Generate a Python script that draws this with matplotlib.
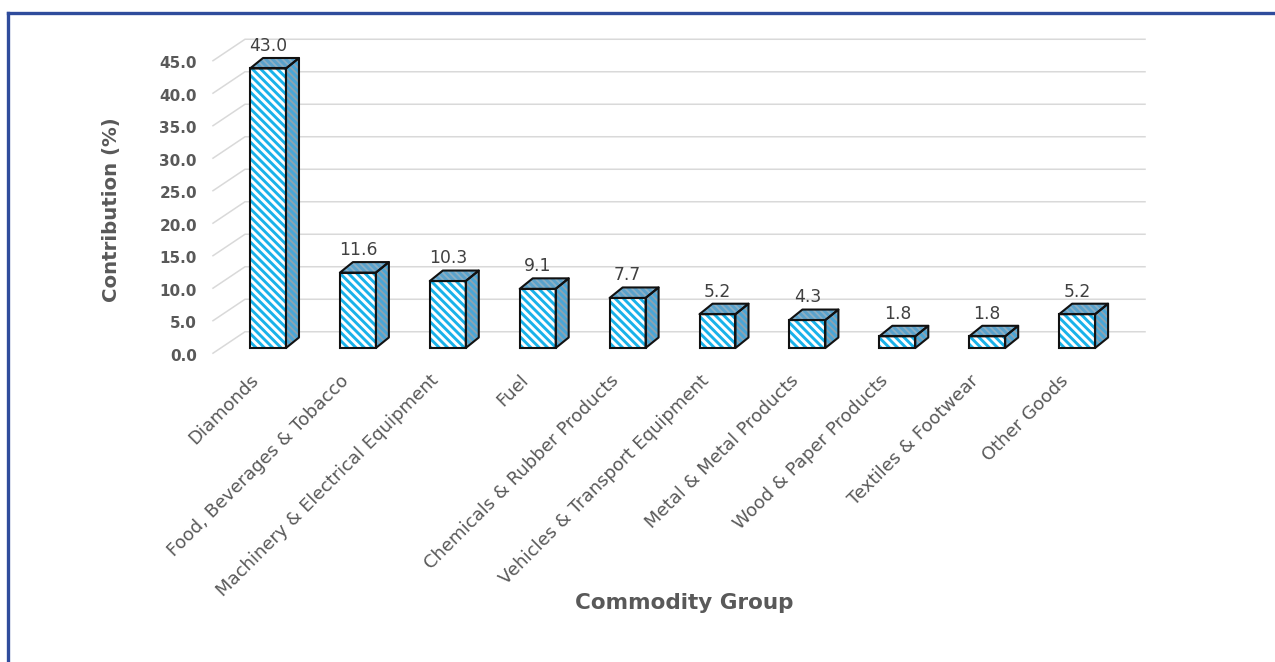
import matplotlib
matplotlib.use('Agg')
import matplotlib.pyplot as plt
from matplotlib.patches import Polygon
from matplotlib.lines import Line2D

categories = ["Diamonds", "Food, Beverages & Tobacco", "Machinery & Electrical Equipment",
              "Fuel", "Chemicals & Rubber Products", "Vehicles & Transport Equipment",
              "Metal & Metal Products", "Wood & Paper Products", "Textiles & Footwear",
              "Other Goods"]
values = [43.0, 11.6, 10.3, 9.1, 7.7, 5.2, 4.3, 1.8, 1.8, 5.2]
yticks = [0.0, 5.0, 10.0, 15.0, 20.0, 25.0, 30.0, 35.0, 40.0, 45.0]

plt.rcParams['hatch.linewidth'] = 2.1

W, H = 1275, 662
fig = plt.figure(figsize=(W / 100, H / 100), dpi=100)

# axes pixel box
x0px, x1px = 200, 1160
ytop, ybot = 20, 360
ax = fig.add_axes([x0px / W, 1 - ybot / H, (x1px - x0px) / W, (ybot - ytop) / H])
pxx, c0 = 89.9, 268.0   # px per category, px of first category
pxy, base = 6.5, 348.0  # px per unit, px of zero
ax.set_xlim((x0px - c0) / pxx, (x1px - c0) / pxx)
ax.set_ylim((base - ybot) / pxy, (base - ytop) / pxy)
ax.axis('off')

def dxu(px):
    return px / pxx

def dyu(px):
    return px / pxy

grey = '#595959'
cyan = '#19b2ea'
front_hatch = '\\' * 4
face_hatch = '\\' * 5

# grid: diagonal floor lines + back-wall horizontal lines
xf, xb, xe = dxu(213 - c0), dxu(245 - c0), dxu(1145 - c0)
for v in yticks:
    yf = v - 0.8
    yb = v + 2.5
    ax.plot([xf, xb, xe], [yf, yb, yb], color='#d9d9d9', lw=1.1, zorder=1,
            solid_joinstyle='miter')
    ax.text(dxu(197 - c0), v - 1.25, f"{v:.1f}", ha='right', va='center',
            fontsize=11, fontweight='bold', color=grey)

bw = 0.4
ddx = dxu(13)
ddy = dyu(10.5)
for i, v in enumerate(values):
    xl, xr = i - bw / 2, i + bw / 2
    # front face
    ax.bar(i, v, width=bw, color='white', edgecolor=cyan, hatch=front_hatch, lw=0, zorder=3)
    ax.bar(i, v, width=bw, fill=False, edgecolor='#111111', lw=1.5, zorder=5)
    # side face
    side = [(xr, 0), (xr + ddx, ddy), (xr + ddx, v + ddy), (xr, v)]
    ax.add_patch(Polygon(side, closed=True, facecolor='#8ea3b0', edgecolor='#4aa6d6',
                         hatch=face_hatch, lw=0, zorder=3))
    ax.add_patch(Polygon(side, closed=True, fill=False, edgecolor='#111111', lw=1.5,
                         zorder=5, joinstyle='round'))
    # top face
    top = [(xl, v), (xr, v), (xr + ddx, v + ddy), (xl + ddx, v + ddy)]
    ax.add_patch(Polygon(top, closed=True, facecolor='#8eb0c4', edgecolor='#5aa2cc',
                         hatch=face_hatch, lw=0, zorder=3))
    ax.add_patch(Polygon(top, closed=True, fill=False, edgecolor='#111111', lw=1.5,
                         zorder=5, joinstyle='round'))
    # value label
    ax.text(i, v + ddy + 1.1, f"{v:.1f}", ha='center', va='baseline',
            fontsize=12.3, color='#404040', zorder=6)
    # category label
    ax.text(i - 0.06, -3.6, categories[i], rotation=45, ha='right', va='top',
            fontsize=13, color=grey)

fig.text(112 / W, 1 - 210 / H, "Contribution (%)", rotation=90, ha='center',
         va='center', fontsize=14.2, fontweight='bold', color=grey)
fig.text(684 / W, 1 - 603 / H, "Commodity Group", ha='center', va='center',
         fontsize=15.5, fontweight='bold', color=grey)

# frame lines (top and left)
bc = '#2f4c9c'
fig.add_artist(Line2D([8 / W, 8 / W], [0, 1 - 13 / H], transform=fig.transFigure,
                      color=bc, lw=2.4, solid_capstyle='projecting'))
fig.add_artist(Line2D([8 / W, 1], [1 - 13 / H, 1 - 13 / H], transform=fig.transFigure,
                      color=bc, lw=2.4, solid_capstyle='projecting'))

fig.savefig('out.png', dpi=100, facecolor='white')
